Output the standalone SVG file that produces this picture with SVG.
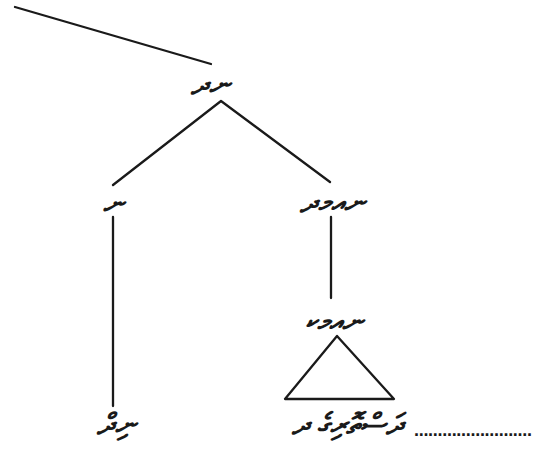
<svg xmlns="http://www.w3.org/2000/svg" width="534" height="450" viewBox="0 0 534 450">
<style>
.edge{stroke:#1a1a1a;stroke-width:2.3;fill:none;stroke-linecap:round;stroke-linejoin:round}
.lbl{font-family:"Noto Sans","DejaVu Sans","Liberation Sans",sans-serif;font-size:29px;fill:#1a1a1a;font-style:italic;font-weight:bold;text-anchor:middle}
.dots{font-family:"Liberation Sans",sans-serif;font-size:18px;font-weight:bold;fill:#1a1a1a}
</style>
<rect width="534" height="450" fill="#ffffff"/>
<g id="connectors">
<line class="edge" x1="15" y1="7" x2="211" y2="64"/>
<polyline class="edge" points="113,185 221,101 330,182"/>
<line class="edge" x1="113" y1="217" x2="113" y2="406"/>
<line class="edge" x1="331" y1="217" x2="331" y2="298"/>
<polygon class="edge" points="285,399 337,336 394,399"/>
</g>
<g id="node-top"><text class="lbl" x="210" y="94" direction="rtl">ނދ</text></g>
<g id="node-left"><text class="lbl" x="113" y="213" direction="rtl">ނ</text></g>
<g id="node-right"><text class="lbl" x="332" y="212" direction="rtl">ނއމދ</text></g>
<g id="node-right2"><text class="lbl" x="334" y="331" direction="rtl">ނއމކ</text></g>
<g id="leaf-left"><text class="lbl" x="116" y="434" direction="rtl">ނިދް</text></g>
<g id="leaf-right">
<text class="lbl" x="347" y="434" direction="rtl">ދަސްތޮރިގެ ދ</text>
<text class="dots" x="414" y="436" textLength="118" lengthAdjust="spacing">.........................</text>
</g>
</svg>
